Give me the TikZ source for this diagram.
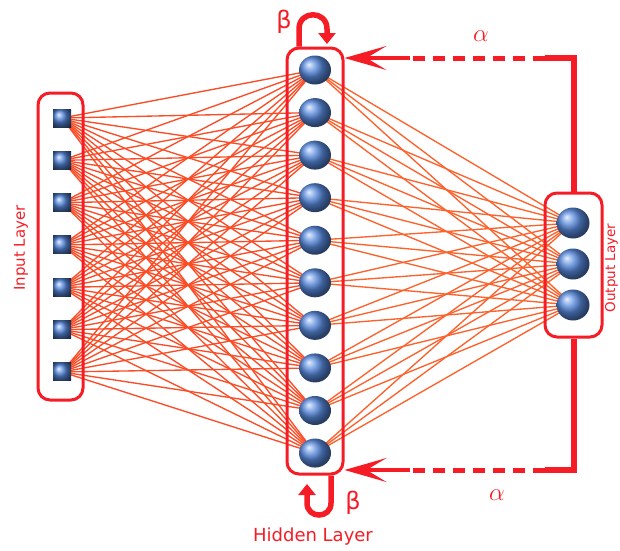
\documentclass[tikz,border=0pt]{standalone}
\usepackage{fontspec}
\setmainfont{DejaVu Sans}
\usetikzlibrary{arrows.meta,backgrounds,shapes.geometric}

\definecolor{nnred}{RGB}{245,28,38}
\definecolor{linkred}{RGB}{252,76,38}
\definecolor{linkorange}{RGB}{253,98,45}
\definecolor{ballblue}{RGB}{88,138,222}

\begin{document}
\begin{tikzpicture}[x=1pt,y=-1pt,
  layerbox/.style={draw=nnred, line width=3pt, rounded corners=12pt, inner sep=0pt},
  neuron/.style={ellipse, shading=ball, ball color=ballblue,
    minimum width=32pt, minimum height=29pt, inner sep=0pt},
  inputunit/.style={rectangle, shading=ball, ball color=ballblue,
    minimum size=18pt, inner sep=0pt},
  inlink/.style={linkred, line width=1.35pt},
  outlink/.style={linkorange, line width=1.35pt},
  fbsolid/.style={nnred, line width=6pt},
  fbdash/.style={nnred, line width=5pt, dash pattern=on 12pt off 8pt},
  fbarrow/.style={nnred, line width=4pt,
    -{Stealth[length=42pt,width=24pt,inset=20pt]}},
  loopline/.style={nnred, line width=5.5pt,
    -{Triangle[length=11pt,width=17pt]}},
  layertext/.style={text=nnred, inner sep=0pt},
  greek/.style={text=nnred, inner sep=0pt}
]
\useasboundingbox (0,0) rectangle (620,550);

% input units
\foreach \i in {1,...,7}
  \node[inputunit] (in\i) at (62,{118+(\i-1)*42.33}) {};
% hidden units
\foreach \j in {1,...,10}
  \node[neuron] (h\j) at (315,{70+(\j-1)*42.56}) {};
% output units
\foreach \k in {1,...,3}
  \node[neuron, minimum width=33pt, minimum height=31pt] (o\k) at (573,{223+(\k-1)*41}) {};

\begin{scope}[on background layer]
  % all-to-all weights
  \foreach \i in {1,...,7}
    \foreach \j in {1,...,10}
      \draw[inlink] (in\i.center) -- (h\j.center);
  \foreach \j in {1,...,10}
    \foreach \k in {1,...,3}
      \draw[outlink] (h\j.center) -- (o\k.center);
  % layer frames
  \node[layerbox, minimum width=45pt, minimum height=307pt] (ibox) at (60.5,246.5) {};
  \node[layerbox, minimum width=56pt, minimum height=426pt] (hbox) at (315,261) {};
  \node[layerbox, minimum width=57pt, minimum height=144pt] (obox) at (573.5,265) {};
\end{scope}

% feedback from the output layer (alpha)
\coordinate (tdash) at (545,58);
\coordinate (tshaft) at (410,58);
\draw[fbsolid] (obox.north) |- (tdash);
\draw[fbdash] (tdash) -- (tshaft);
\draw[fbarrow] (tshaft) -- (hbox.east |- tshaft);

\coordinate (bdash) at (545,470);
\coordinate (bshaft) at (410,470);
\draw[fbsolid] (obox.south) |- (bdash);
\draw[fbdash] (bdash) -- (bshaft);
\draw[fbarrow] (bshaft) -- (hbox.east |- bshaft);

\node[greek, font=\fontsize{30}{30}\selectfont] (atop) at (481,36) {$\alpha$};
\node[greek, font=\fontsize{30}{30}\selectfont] (abot) at (497,495) {$\alpha$};

% self-recurrence of the hidden layer (beta)
\coordinate (tl1) at (299,29);
\coordinate (tl2) at (327,29);
\coordinate (tltip) at (327,44);
\draw[loopline] (hbox.north -| tl1) -- (tl1)
  .. controls (299,10) and (327,10) .. (tl2) -- (tltip);

\coordinate (bl1) at (331,503);
\coordinate (bl2) at (307,503);
\coordinate (bltip) at (307,484);
\draw[loopline] (hbox.south -| bl1) -- (bl1)
  .. controls (331,519) and (307,519) .. (bl2) -- (bltip);

\node[greek, font=\fontsize{24}{24}\selectfont] (btop) at (284,22) {β};
\node[greek, font=\fontsize{24}{24}\selectfont] (bbot) at (353,503) {β};

% layer captions
\node[layertext, font=\fontsize{18}{20}\selectfont] (hcap) at (313,537) {Hidden Layer};
\node[layertext, font=\fontsize{15}{17}\selectfont, rotate=90] (icap) at (21,248) {Input Layer};
\node[layertext, font=\fontsize{13.5}{15}\selectfont, rotate=90, anchor=north] (ocap) at (605,268) {Output Layer};
\end{tikzpicture}
\end{document}
